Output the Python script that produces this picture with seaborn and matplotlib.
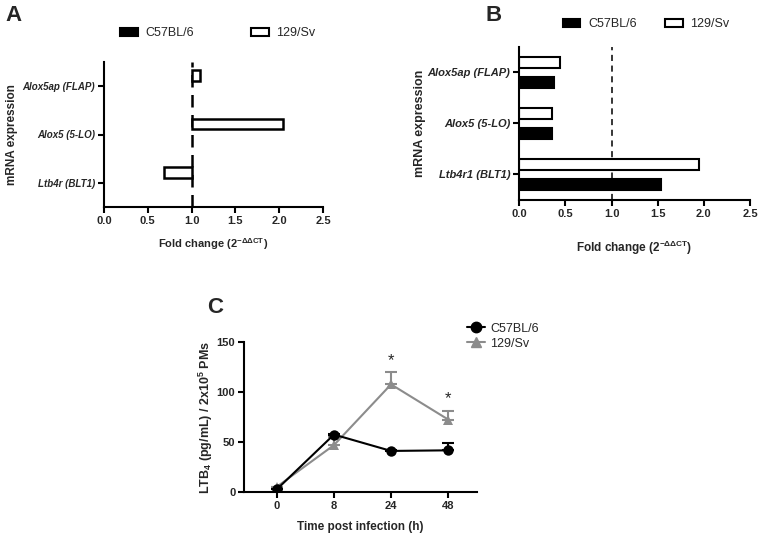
import matplotlib
matplotlib.use('Agg')

import numpy as np
import pandas as pd
import matplotlib.pyplot as plt
import seaborn as sns
from matplotlib.patches import Patch
from matplotlib.lines import Line2D

# panel A: 129/Sv relative to C57BL/6 (bars start at 1.0)
genes_a = ['Alox5ap (FLAP)', 'Alox5 (5-LO)', 'Ltb4r (BLT1)']
sv_a = [1.10, 2.04, 0.68]

# panel B
genes_b = ['Alox5ap (FLAP)', 'Alox5 (5-LO)', 'Ltb4r1 (BLT1)']
c57_b = [0.38, 0.355, 1.54]
sv_b = [0.44, 0.35, 1.95]

# panel C
times = ['0', '8', '24', '48']
c57_c = [3, 57.5, 41.2, 41.8]
c57_err = [0, 1, 1, 7]
sv_c = [5.5, 47, 107.5, 72.5]
sv_err = [0, 8, 12, 8.5]
stars = [('24', 131), ('48', 93)]

sns.set_style('ticks')
plt.rcParams['font.family'] = ['Liberation Sans', 'DejaVu Sans']
plt.rcParams['mathtext.fontset'] = 'custom'
plt.rcParams['mathtext.rm'] = 'Liberation Sans'
plt.rcParams['mathtext.bf'] = 'Liberation Sans:bold'
plt.rcParams['mathtext.it'] = 'Liberation Sans:italic'

GRAY = '#8c8c8c'
fig = plt.figure(figsize=(7.61, 5.38), dpi=100)

def style_axes(ax, lw=1.5):
    for s in ['top', 'right']:
        ax.spines[s].set_visible(False)
    for s in ['left', 'bottom']:
        ax.spines[s].set_linewidth(lw)
        ax.spines[s].set_color('black')
    ax.tick_params(width=lw, length=4, color='black', direction='out', pad=2.5)

def bar_legend(ax, x, y, spacing):
    handles = [Patch(facecolor='black', edgecolor='black', lw=1.5, label='C57BL/6'),
               Patch(facecolor='white', edgecolor='black', lw=1.5, label='129/Sv')]
    ax.legend(handles=handles, ncol=2, loc='center', bbox_to_anchor=(x, y),
              frameon=False, fontsize=9, handlelength=1.4, handleheight=0.6,
              handletextpad=0.6, columnspacing=spacing, borderaxespad=0)

# ---- A ----
axA = fig.add_axes([104/761, 1-207/538, 219/761, 145/538])
pos_a = np.arange(len(genes_a))
axA.axvline(1.0, color='black', ls=(0, (5, 3)), lw=1.8, zorder=1)
axA.barh(pos_a - 0.22, np.array(sv_a) - 1, left=1, height=0.22,
         color='white', edgecolor='black', linewidth=1.8, zorder=2)
axA.set_yticks(pos_a)
axA.set_yticklabels(genes_a, fontsize=7, fontweight='bold', fontstyle='italic')
axA.set_ylim(2.5, -0.5)
axA.set_xlim(0, 2.5)
axA.set_xticks([0, 0.5, 1, 1.5, 2, 2.5])
axA.set_xticklabels(['0.0', '0.5', '1.0', '1.5', '2.0', '2.5'], fontsize=8, fontweight='bold')
axA.set_xlabel(r'Fold change (2$^{\mathbf{-\Delta\Delta CT}}$)', fontsize=8, fontweight='bold', labelpad=7)
axA.set_ylabel('mRNA expression', fontsize=8.5, fontweight='bold', labelpad=3)
style_axes(axA)
bar_legend(axA, 0.52, 1.20, 4.6)

# ---- B ----
axB = fig.add_axes([519.3/761, 1-200/538, 230.7/761, 153/538])
df_b = pd.DataFrame({
    'gene': genes_b * 2,
    'fold': sv_b + c57_b,
    'strain': ['129/Sv'] * 3 + ['C57BL/6'] * 3,
})
axB.axvline(1.0, color='black', ls=(0, (4, 3)), lw=1.1, zorder=0)
sns.barplot(data=df_b, y='gene', x='fold', hue='strain', hue_order=['129/Sv', 'C57BL/6'],
            palette={'129/Sv': 'white', 'C57BL/6': 'black'}, edgecolor='black',
            linewidth=1.5, gap=0.45, orient='h', legend=False, errorbar=None, ax=axB)
axB.set_xlim(0, 2.5)
axB.set_ylim(2.5, -0.5)
axB.set_xticks([0, 0.5, 1, 1.5, 2, 2.5])
axB.set_xticklabels(['0.0', '0.5', '1.0', '1.5', '2.0', '2.5'], fontsize=8, fontweight='bold')
axB.set_yticks(range(3))
axB.set_yticklabels(genes_b, fontsize=8, fontweight='bold', fontstyle='italic')
axB.set_xlabel(r'Fold change (2$^{\mathbf{-\Delta\Delta CT}}$)', fontsize=8.5, fontweight='bold', labelpad=14)
axB.set_ylabel('mRNA expression', fontsize=9, fontweight='bold', labelpad=1)
style_axes(axB)
bar_legend(axB, 0.55, 1.15, 2.3)

# ---- C ----
axC = fig.add_axes([244.3/761, 1-492.3/538, 232.4/761, 150.6/538])
pos_c = np.arange(len(times))
df_c = pd.DataFrame({
    'pos': list(pos_c) * 2,
    'ltb4': sv_c + c57_c,
    'strain': ['129/Sv'] * 4 + ['C57BL/6'] * 4,
})
axC.errorbar(pos_c, sv_c, yerr=[np.zeros(4), sv_err], fmt='none', ecolor=GRAY,
             elinewidth=1.5, capsize=4, capthick=1.5, zorder=1)
axC.errorbar(pos_c, c57_c, yerr=[np.zeros(4), c57_err], fmt='none', ecolor='black',
             elinewidth=1.5, capsize=4, capthick=1.5, zorder=1)
sns.lineplot(data=df_c, x='pos', y='ltb4', hue='strain', style='strain',
             hue_order=['129/Sv', 'C57BL/6'], style_order=['129/Sv', 'C57BL/6'],
             palette={'129/Sv': GRAY, 'C57BL/6': 'black'},
             markers={'129/Sv': '^', 'C57BL/6': 'o'}, dashes=False,
             markersize=7.5, markeredgewidth=0, linewidth=1.5, legend=False, ax=axC)
for t, y in stars:
    axC.text(times.index(t), y, '*', ha='center', va='center', fontsize=12)
axC.set_xlim(-0.57, 3.5)
axC.set_ylim(0, 150)
axC.set_xticks(pos_c)
axC.set_xticklabels(times, fontsize=8, fontweight='bold')
axC.set_yticks([0, 50, 100, 150])
axC.set_yticklabels(['0', '50', '100', '150'], fontsize=8, fontweight='bold')
axC.set_xlabel('Time post infection (h)', fontsize=8.5, fontweight='bold', labelpad=7)
axC.set_ylabel(r'LTB$_\mathbf{4}$ (pg/mL) / 2x10$^\mathbf{5}$ PMs', fontsize=9, fontweight='bold', labelpad=1)
style_axes(axC)
handles_c = [Line2D([], [], color='black', marker='o', markersize=7.5, lw=1.5, label='C57BL/6'),
             Line2D([], [], color=GRAY, marker='^', markersize=7.5, lw=1.5, label='129/Sv')]
axC.legend(handles=handles_c, loc='upper left', bbox_to_anchor=(0.935, 1.16), frameon=False,
           fontsize=9, handlelength=1.5, handletextpad=0.4, labelspacing=0.25, borderaxespad=0)

# panel letters
fig.text(5/761, 1-5/538, 'A', fontsize=16, fontweight='bold', va='top')
fig.text(486/761, 1-5/538, 'B', fontsize=16, fontweight='bold', va='top')
fig.text(207/761, 1-297/538, 'C', fontsize=16, fontweight='bold', va='top')

fig.savefig('out.png', dpi=100)
